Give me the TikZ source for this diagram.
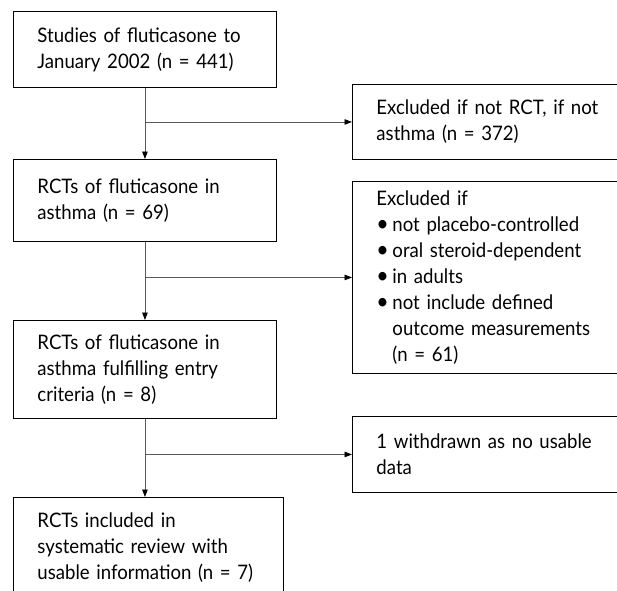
\documentclass[tikz,border=0pt]{standalone}
\usepackage{fontspec}
\setmainfont{Lato}[FakeStretch=0.93]
\usetikzlibrary{arrows.meta,calc}
\newcommand\itembul{\makebox[16pt][l]{\raisebox{-0.5pt}{\scalebox{1.15}{\textbullet}}}}
\begin{document}
\begin{tikzpicture}[x=1pt,y=-1pt,
  box/.style={draw=black,line width=0.9pt,anchor=north west,inner xsep=24pt,inner ysep=0pt,align=left,font=\fontsize{20}{26}\selectfont},
  link/.style={draw=black!65,line width=0.9pt},
  arr/.style={link,-{Triangle[length=7.5pt,width=5.5pt,color=black]}}]
\useasboundingbox (0,0) rectangle (617,590);
\clip (0,0) rectangle (617,590);
\node[box,text width=215pt,minimum height=76pt] (B1) at (13,11) {\mbox{Studies of fluticasone to}\\\mbox{January 2002 (n = 441)}};
\node[box,text width=215pt,minimum height=82pt] (B2) at (13,159) {\mbox{RCTs of fluticasone in}\\\mbox{asthma (n = 69)}};
\node[box,text width=215pt,minimum height=98pt] (B3) at (13,320) {\mbox{RCTs of fluticasone in}\\\mbox{asthma fulfilling entry}\\\mbox{criteria (n = 8)}};
\node[box,text width=222pt,minimum height=101pt] (B4) at (13,497) {\mbox{RCTs included in}\\\mbox{systematic review with}\\\mbox{usable information (n = 7)}};
\node[box,text width=250pt,minimum height=75pt] (R1) at (352,84) {\mbox{Excluded if not RCT, if not}\\\mbox{asthma (n = 372)}};
\node[box,text width=250pt,minimum height=192pt] (R2) at (352,181) {\mbox{Excluded if}\\
\mbox{\itembul not placebo-controlled}\\
\mbox{\itembul oral steroid-dependent}\\
\mbox{\itembul in adults}\\
\mbox{\itembul not include defined}\\
\mbox{\hspace*{16pt}outcome measurements}\\
\mbox{\hspace*{16pt}(n = 61)}};
\node[box,text width=250pt,minimum height=76pt] (R3) at (352,416) {\mbox{1 withdrawn as no usable}\\\mbox{data}};
\draw[arr] (B1.south) -- (B2.north);
\draw[arr] (B1.south |- R1.west) -- (R1.west);
\draw[arr] (B2.south) -- (B3.north);
\draw[arr] (B2.south |- R2.west) -- (R2.west);
\draw[arr] (B3.south) -- (B3.south |- B4.north);
\draw[arr] (B3.south |- R3.west) -- (R3.west);
\end{tikzpicture}
\end{document}
